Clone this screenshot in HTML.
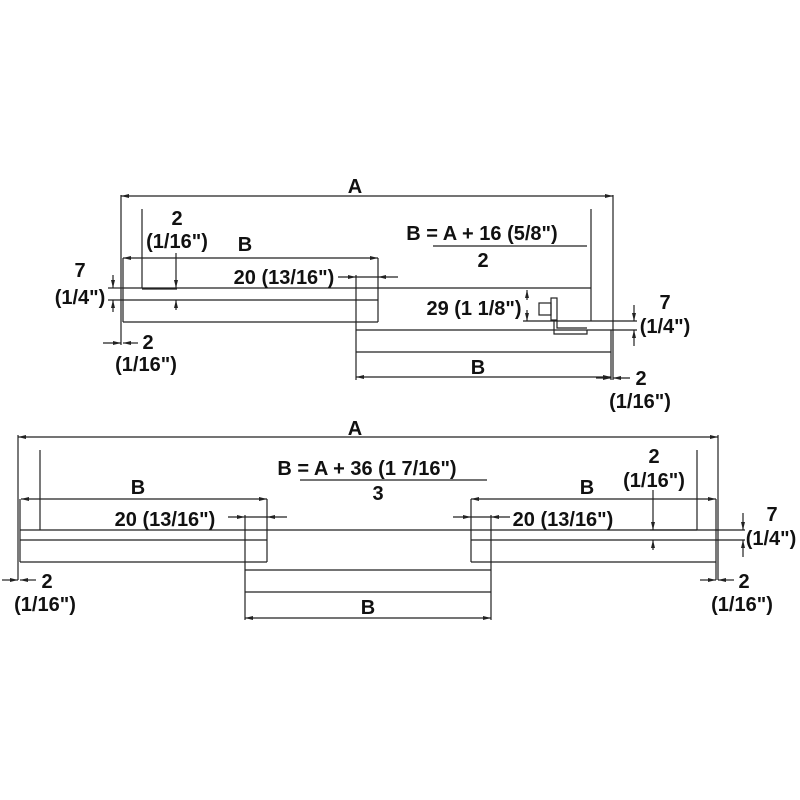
<!DOCTYPE html>
<html><head><style>
body{margin:0;background:#fff}
svg{display:block}
text{font-family:"Liberation Sans",Arial,sans-serif;font-weight:bold;font-size:20px;fill:#111;text-anchor:middle}
line,polyline,rect{stroke:#222;stroke-width:1.2;fill:none}
</style></head><body>
<svg width="800" height="800" viewBox="0 0 800 800">
<defs>
<marker id="a" markerWidth="8" markerHeight="6" refX="8" refY="3" orient="auto" markerUnits="userSpaceOnUse">
<path d="M0,1 L8,3 L0,5z" fill="#222"/></marker>
</defs>
<!-- TOP DIAGRAM -->
<line x1="300" y1="196" x2="613" y2="196" marker-end="url(#a)"/>
<line x1="300" y1="196" x2="121" y2="196" marker-end="url(#a)"/>
<line x1="121" y1="195" x2="121" y2="345"/>
<line x1="123" y1="258" x2="123" y2="322"/>
<line x1="613" y1="195" x2="613" y2="380"/>
<line x1="611" y1="330" x2="611" y2="380"/>
<line x1="142" y1="209" x2="142" y2="288"/>
<line x1="142" y1="289" x2="177" y2="289"/>
<line x1="200" y1="258" x2="123" y2="258" marker-end="url(#a)"/>
<line x1="200" y1="258" x2="378" y2="258" marker-end="url(#a)"/>
<line x1="378" y1="258" x2="378" y2="322"/>
<line x1="123" y1="288" x2="591" y2="288"/>
<line x1="108" y1="300" x2="378" y2="300"/>
<line x1="108" y1="288" x2="123" y2="288"/>
<line x1="123" y1="322" x2="378" y2="322"/>
<line x1="356" y1="275" x2="356" y2="380"/>
<line x1="356" y1="330" x2="637" y2="330"/>
<line x1="356" y1="352" x2="611" y2="352"/>
<line x1="480" y1="377" x2="356" y2="377" marker-end="url(#a)"/>
<line x1="480" y1="377" x2="611" y2="377" marker-end="url(#a)"/>
<line x1="591" y1="209" x2="591" y2="321"/>
<line x1="523" y1="321" x2="637" y2="321"/>
<line x1="338" y1="277" x2="356" y2="277" marker-end="url(#a)"/>
<line x1="398" y1="277" x2="378" y2="277" marker-end="url(#a)"/>
<line x1="356" y1="277" x2="378" y2="277"/>
<line x1="176" y1="253" x2="176" y2="288" marker-end="url(#a)"/>
<line x1="176" y1="310" x2="176" y2="300" marker-end="url(#a)"/>
<line x1="113" y1="275" x2="113" y2="288" marker-end="url(#a)"/>
<line x1="113" y1="312" x2="113" y2="300" marker-end="url(#a)"/>
<line x1="103" y1="343" x2="121" y2="343" marker-end="url(#a)"/>
<line x1="138" y1="343" x2="123" y2="343" marker-end="url(#a)"/>
<line x1="527" y1="300" x2="527" y2="290" marker-end="url(#a)"/>
<line x1="527" y1="310" x2="527" y2="321" marker-end="url(#a)"/>
<line x1="634" y1="305" x2="634" y2="321" marker-end="url(#a)"/>
<line x1="634" y1="346" x2="634" y2="330" marker-end="url(#a)"/>
<line x1="596" y1="378" x2="611" y2="378" marker-end="url(#a)"/>
<line x1="630" y1="378" x2="613" y2="378" marker-end="url(#a)"/>
<!-- bracket -->
<rect x="539" y="303" width="12" height="12"/>
<rect x="551" y="298" width="6" height="22"/>
<polyline points="554,320 554,334 587,334 587,330"/>
<polyline points="557,320 557,328 587,328"/>
<text x="355" y="193">A</text>
<text x="177" y="225">2</text>
<text x="177" y="248">(1/16")</text>
<text x="245" y="251">B</text>
<text x="284" y="284">20 (13/16")</text>
<text x="80" y="277">7</text>
<text x="80" y="304">(1/4")</text>
<text x="148" y="349">2</text>
<text x="146" y="371">(1/16")</text>
<text x="482" y="240">B = A + 16 (5/8")</text>
<line x1="433" y1="246" x2="587" y2="246"/>
<text x="483" y="267">2</text>
<text x="474" y="315">29 (1 1/8")</text>
<text x="665" y="309">7</text>
<text x="665" y="333">(1/4")</text>
<text x="478" y="374">B</text>
<text x="641" y="385">2</text>
<text x="640" y="408">(1/16")</text>
<!-- BOTTOM DIAGRAM -->
<line x1="300" y1="437" x2="18" y2="437" marker-end="url(#a)"/>
<line x1="300" y1="437" x2="718" y2="437" marker-end="url(#a)"/>
<line x1="18" y1="435" x2="18" y2="580"/>
<line x1="20" y1="499" x2="20" y2="562"/>
<line x1="718" y1="435" x2="718" y2="580"/>
<line x1="716" y1="499" x2="716" y2="580"/>
<line x1="40" y1="450" x2="40" y2="530"/>
<line x1="697" y1="450" x2="697" y2="530"/>
<line x1="20" y1="530" x2="745" y2="530"/>
<line x1="20" y1="540" x2="267" y2="540"/>
<line x1="20" y1="562" x2="267" y2="562"/>
<line x1="140" y1="499" x2="21" y2="499" marker-end="url(#a)"/>
<line x1="140" y1="499" x2="267" y2="499" marker-end="url(#a)"/>
<line x1="267" y1="499" x2="267" y2="562"/>
<line x1="245" y1="515" x2="245" y2="620"/>
<line x1="491" y1="515" x2="491" y2="620"/>
<line x1="245" y1="570" x2="491" y2="570"/>
<line x1="245" y1="592" x2="491" y2="592"/>
<line x1="368" y1="618" x2="245" y2="618" marker-end="url(#a)"/>
<line x1="368" y1="618" x2="491" y2="618" marker-end="url(#a)"/>
<line x1="471" y1="499" x2="471" y2="562"/>
<line x1="590" y1="499" x2="471" y2="499" marker-end="url(#a)"/>
<line x1="590" y1="499" x2="716" y2="499" marker-end="url(#a)"/>
<line x1="471" y1="540" x2="745" y2="540"/>
<line x1="471" y1="562" x2="716" y2="562"/>
<line x1="650" y1="530" x2="697" y2="530"/>
<line x1="228" y1="517" x2="245" y2="517" marker-end="url(#a)"/>
<line x1="287" y1="517" x2="267" y2="517" marker-end="url(#a)"/>
<line x1="245" y1="517" x2="267" y2="517"/>
<line x1="453" y1="517" x2="471" y2="517" marker-end="url(#a)"/>
<line x1="510" y1="517" x2="491" y2="517" marker-end="url(#a)"/>
<line x1="471" y1="517" x2="491" y2="517"/>
<line x1="653" y1="490" x2="653" y2="530" marker-end="url(#a)"/>
<line x1="653" y1="550" x2="653" y2="540" marker-end="url(#a)"/>
<line x1="743" y1="513" x2="743" y2="530" marker-end="url(#a)"/>
<line x1="743" y1="557" x2="743" y2="540" marker-end="url(#a)"/>
<line x1="2" y1="580" x2="18" y2="580" marker-end="url(#a)"/>
<line x1="36" y1="580" x2="20" y2="580" marker-end="url(#a)"/>
<line x1="700" y1="580" x2="716" y2="580" marker-end="url(#a)"/>
<line x1="734" y1="580" x2="718" y2="580" marker-end="url(#a)"/>
<text x="355" y="435">A</text>
<text x="367" y="475">B = A + 36 (1 7/16")</text>
<line x1="300" y1="480" x2="487" y2="480"/>
<text x="378" y="500">3</text>
<text x="138" y="494">B</text>
<text x="165" y="526">20 (13/16")</text>
<text x="587" y="494">B</text>
<text x="563" y="526">20 (13/16")</text>
<text x="654" y="463">2</text>
<text x="654" y="487">(1/16")</text>
<text x="772" y="521">7</text>
<text x="771" y="545">(1/4")</text>
<text x="47" y="588">2</text>
<text x="45" y="611">(1/16")</text>
<text x="744" y="588">2</text>
<text x="742" y="611">(1/16")</text>
<text x="368" y="614">B</text>
</svg>
</body></html>
